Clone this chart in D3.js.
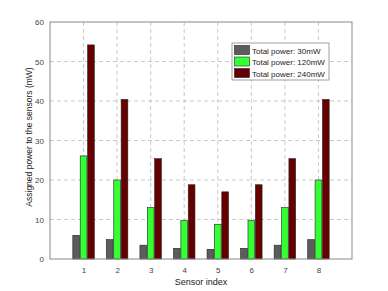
<!DOCTYPE html>
<html>
<head>
<meta charset="utf-8"/>
<script src="https://cdn.jsdelivr.net/npm/d3@7"></script>
<style>
body { margin: 0; background: #fff; }
text { font-family: "Liberation Sans", Arial, sans-serif; }
</style>
</head>
<body>
<svg width="388" height="291"></svg>
<script>
var sensors = [1, 2, 3, 4, 5, 6, 7, 8];
var power30 = [6, 4.9, 3.5, 2.7, 2.45, 2.7, 3.5, 4.9];
var power120 = [26.1, 20, 13, 9.7, 8.8, 9.7, 13, 20];
var power240 = [54.2, 40.4, 25.4, 18.8, 17, 18.8, 25.4, 40.4];
var seriesNames = ["Total power: 30mW", "Total power: 120mW", "Total power: 240mW"];
var colors = ["#5c5c5c", "#33ff33", "#660000"];
var yTicks = [0, 10, 20, 30, 40, 50, 60];

var series = [power30, power120, power240];

var svg = d3.select("svg"),
    margin = {left: 50, right: 36, top: 22, bottom: 32},
    width = 388 - margin.left - margin.right,
    height = 291 - margin.top - margin.bottom,
    g = svg.append("g").attr("transform", "translate(" + margin.left + "," + margin.top + ")");

var x = d3.scaleLinear().domain([0, 9]).range([0, width]);
var y = d3.scaleLinear().domain([0, 60]).range([height, 0]);

// grid
g.selectAll(".gx").data(sensors).enter().append("line")
    .attr("x1", function(d) { return x(d); }).attr("x2", function(d) { return x(d); })
    .attr("y1", 0).attr("y2", height)
    .attr("stroke", "#bbb").attr("stroke-dasharray", "4,3").attr("stroke-width", 0.8);
g.selectAll(".gy").data(yTicks.slice(1, -1)).enter().append("line")
    .attr("x1", 0).attr("x2", width)
    .attr("y1", function(d) { return y(d); }).attr("y2", function(d) { return y(d); })
    .attr("stroke", "#bbb").attr("stroke-dasharray", "4,3").attr("stroke-width", 0.8);

// bars
var barW = 0.2, step = 0.22;
series.forEach(function(vals, s) {
  g.selectAll(".bar" + s).data(vals).enter().append("rect")
      .attr("x", function(d, i) { return x(sensors[i] + (s - 1) * step - barW / 2); })
      .attr("width", x(barW) - x(0))
      .attr("y", function(d) { return y(d); })
      .attr("height", function(d) { return y(0) - y(d); })
      .attr("fill", colors[s])
      .attr("stroke", "#222").attr("stroke-width", 0.6);
});

// box
g.append("rect").attr("width", width).attr("height", height)
    .attr("fill", "none").attr("stroke", "#888").attr("stroke-width", 1);

var xAxis = g.append("g").attr("transform", "translate(0," + height + ")")
    .call(d3.axisBottom(x).tickValues(sensors).tickSize(0).tickPadding(8));
var yAxis = g.append("g")
    .call(d3.axisLeft(y).tickValues(yTicks).tickSize(0).tickPadding(6));
[xAxis, yAxis].forEach(function(a) {
  a.select(".domain").remove();
  a.selectAll("text").attr("fill", "#444").style("font-size", "8px")
      .style("font-family", "Liberation Sans, Arial, sans-serif");
});

svg.append("text").attr("x", margin.left + width / 2).attr("y", 285)
    .attr("text-anchor", "middle").attr("fill", "#222").style("font-size", "9px")
    .text("Sensor index");
svg.append("text")
    .attr("transform", "translate(32,137) rotate(-90)")
    .attr("text-anchor", "middle").attr("fill", "#222").style("font-size", "8.5px")
    .text("Assigned power to the sensors (mW)");

// legend
var leg = svg.append("g").attr("transform", "translate(232,43)");
leg.append("rect").attr("width", 97).attr("height", 37)
    .attr("fill", "#fff").attr("stroke", "#888").attr("stroke-width", 0.8);
seriesNames.forEach(function(name, s) {
  leg.append("rect").attr("x", 2.5).attr("y", 2.5 + s * 11.5)
      .attr("width", 15).attr("height", 9)
      .attr("fill", colors[s]).attr("stroke", "#222").attr("stroke-width", 0.6);
  leg.append("text").attr("x", 20).attr("y", 10.5 + s * 11.5)
      .attr("fill", "#222").style("font-size", "8px").text(name);
});
</script>
</body>
</html>
